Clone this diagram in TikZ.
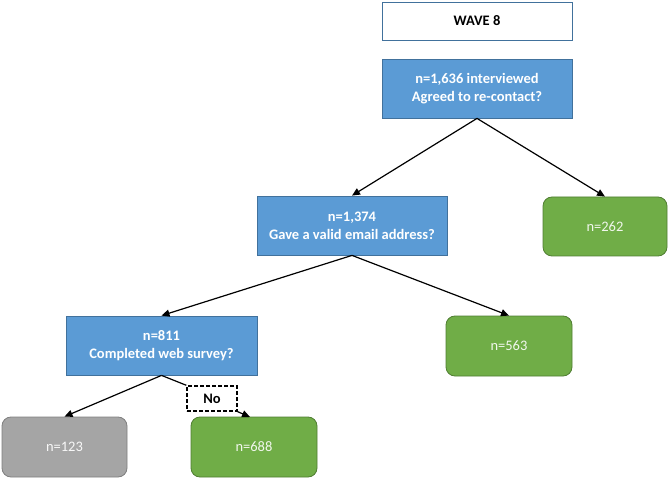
\documentclass[tikz,border=0pt]{standalone}
\usepackage{fontspec}
\setmainfont{Carlito}
\usetikzlibrary{arrows.meta}
\definecolor{qblue}{HTML}{5B9BD5}
\definecolor{qblueline}{HTML}{41719C}
\definecolor{ggreen}{HTML}{70AD47}
\definecolor{ggreenline}{HTML}{507E32}
\definecolor{ggrey}{HTML}{A5A5A5}
\definecolor{ggreyline}{HTML}{7F7F7F}
\tikzset{
  qbox/.style={draw=qblueline, fill=qblue, line width=0.8pt, text=white, font=\fontsize{14.5}{18}\selectfont\bfseries, align=center, inner sep=0pt},
  gbox/.style={draw=ggreenline, fill=ggreen, line width=0.8pt, rounded corners=9pt, text=white!90!ggreen, font=\fontsize{14.5}{17}\selectfont, align=center, inner sep=0pt},
  greybox/.style={draw=ggreyline, fill=ggrey, line width=0.8pt, rounded corners=9pt, text=white!92!ggrey, font=\fontsize{14.5}{17}\selectfont, align=center, inner sep=0pt},
  titlebox/.style={draw=qblueline, fill=white, line width=0.8pt, font=\fontsize{14.5}{17}\selectfont\bfseries, align=center, inner sep=0pt},
  dbox/.style={draw=black, dash pattern=on 4pt off 2pt, line width=1.4pt, fill=white, font=\fontsize{14.5}{17}\selectfont\bfseries, inner sep=0pt},
  conn/.style={line width=1.2pt, -{Triangle[length=8pt,width=7pt]}},
}
\begin{document}
\begin{tikzpicture}[x=1pt,y=-1pt]
\useasboundingbox (0,0) rectangle (669,478);
\node[titlebox, minimum width=190pt, minimum height=38pt] (wave) at (477,21) {WAVE 8};
\node[qbox, minimum width=190pt, minimum height=59pt] (top) at (477,88.5) {n=1,636 interviewed\\Agreed to re-contact?};
\node[qbox, minimum width=190pt, minimum height=59pt] (q2) at (352,225.5) {n=1,374\\Gave a valid email address?};
\node[gbox, minimum width=124pt, minimum height=59pt] (g262) at (605,226.5) {n=262};
\node[qbox, minimum width=191pt, minimum height=59pt] (q3) at (161.5,345.5) {n=811\\Completed web survey?};
\node[gbox, minimum width=126pt, minimum height=60pt] (g563) at (509,346) {n=563};
\node[greybox, minimum width=125pt, minimum height=60pt] (g123) at (64.5,447) {n=123};
\node[gbox, minimum width=126pt, minimum height=60pt] (g688) at (254,447) {n=688};
\node[dbox, minimum width=50pt, minimum height=25pt] (no) at (212,398.5) {No};
\coordinate (e688) at (250,417);
\draw[conn] (top.south) -- (q2.north);
\draw[conn] (top.south) -- (g262.north);
\draw[conn] (q2.south) -- (q3.north);
\draw[conn] (q2.south) -- (g563.north);
\draw[conn] (q3.south) -- (g123.north);
\draw[line width=1.2pt] (q3.south) -- (no.north west);
\draw[conn] (no.south east) -- (e688);
\end{tikzpicture}
\end{document}
